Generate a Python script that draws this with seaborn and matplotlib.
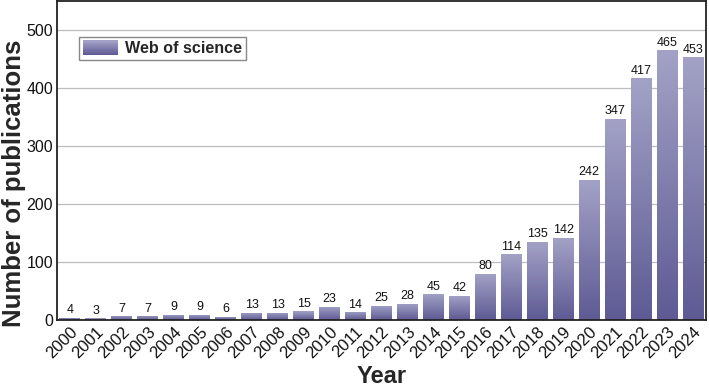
import numpy as np
import pandas as pd
import matplotlib
matplotlib.use("Agg")
import matplotlib.pyplot as plt
import matplotlib.colors as mcolors
from matplotlib.patches import Rectangle
from matplotlib.legend_handler import HandlerBase
import seaborn as sns

# Data
years = [str(y) for y in range(2000, 2025)]
counts = [4, 3, 7, 7, 9, 9, 6, 13, 13, 15, 23, 14, 25, 28, 45, 42,
          80, 114, 135, 142, 242, 347, 417, 465, 453]
series_name = "Web of science"

TOP_COLOR = "#a3a2c6"
BOTTOM_COLOR = "#5e5a94"

sns.set_theme(style="white")
plt.rcParams['font.family'] = ['Liberation Sans', 'DejaVu Sans']

df = pd.DataFrame({'year': years, 'count': counts})

fig = plt.figure(figsize=(7.09, 3.88), dpi=100)
ax = fig.add_axes([0.080, 0.175, 0.916, 0.822])

sns.barplot(data=df, x='year', y='count', color=BOTTOM_COLOR,
            width=0.8, ax=ax, zorder=2)

# vertical gradient on each bar (light top -> dark bottom)
cmap = mcolors.LinearSegmentedColormap.from_list(
    'grad', [BOTTOM_COLOR, TOP_COLOR])
grad = np.linspace(0, 1, 256).reshape(-1, 1)
for p in ax.patches:
    x0, y0 = p.get_x(), p.get_y()
    w, h = p.get_width(), p.get_height()
    p.set_facecolor('none')
    p.set_edgecolor('none')
    im = ax.imshow(grad, cmap=cmap, origin='lower', aspect='auto',
                   extent=[x0, x0 + w, y0, y0 + h], zorder=2)
    im.set_clip_path(p)

ax.bar_label(ax.containers[0], labels=[str(c) for c in counts],
             padding=1, fontsize=9, color='#111111')

ax.set_xlim(-0.5, len(years) - 0.5)
ax.set_ylim(0, 550)
ax.set_yticks([0, 100, 200, 300, 400, 500])
ax.yaxis.grid(True, color='#bdbdbd', linewidth=0.9, zorder=0)
ax.set_axisbelow(True)

for s in ax.spines.values():
    s.set_visible(True)
    s.set_color('#222222')
    s.set_linewidth(1.3)

ax.tick_params(axis='x', direction='in', length=3, width=1,
               color='#222222', labelsize=12, pad=3, labelcolor='#111111')
ax.tick_params(axis='y', direction='in', length=0, labelsize=11.5,
               pad=2.5, labelcolor='#111111')
plt.setp(ax.get_xticklabels(), rotation=45, ha='right',
         rotation_mode='anchor')

ax.set_xlabel('Year', fontsize=17, fontweight='bold', labelpad=3)
ax.set_ylabel('Number of publications', fontsize=18.5,
              fontweight='bold')
ax.yaxis.set_label_coords(-0.047, 0.43)


class GradientHandler(HandlerBase):
    def create_artists(self, legend, orig_handle, xdescent, ydescent,
                       width, height, fontsize, trans):
        n = 12
        arts = []
        for i in range(n):
            c = cmap(i / (n - 1))
            r = Rectangle((-xdescent, -ydescent + height * i / n),
                          width, height / n + 0.3, facecolor=c,
                          edgecolor='none', transform=trans)
            arts.append(r)
        return arts


handle = Rectangle((0, 0), 1, 1)
leg = ax.legend([handle], [series_name],
                handler_map={Rectangle: GradientHandler()},
                loc='upper left', bbox_to_anchor=(0.035, 0.887),
                fancybox=False, framealpha=1, edgecolor='#888888',
                handlelength=2.2, handleheight=1.05, handletextpad=0.45,
                borderpad=0.2, borderaxespad=0,
                prop={'weight': 'bold', 'size': 11.6})
leg.get_frame().set_linewidth(1.0)

fig.savefig('out.png', dpi=100)
